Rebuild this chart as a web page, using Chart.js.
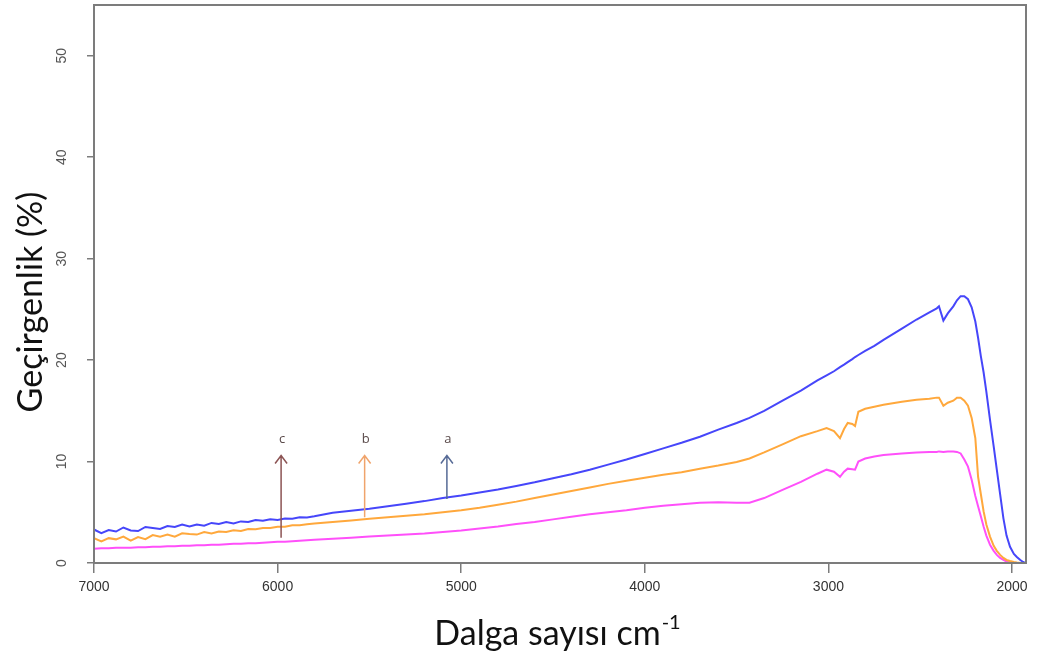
<!DOCTYPE html>
<html>
<head>
<meta charset="utf-8">
<title>Geçirgenlik spektrumu</title>
<script src="https://cdn.jsdelivr.net/npm/chart.js@4"></script>
<style>
    html, body { margin: 0; padding: 0; background: #fff; }
    #wrap { width: 1038px; height: 659px; position: relative; }
</style>
</head>
<body>
<div id="wrap"><canvas id="grafico"></canvas></div>
<script>
// dalga sayisi (cm-1), ortak eksen
const dalgaSayisi = [
    7000, 6960, 6920, 6880, 6840, 6800, 6760, 6720, 6680, 6640, 6600, 6560, 6520, 6480, 6440, 6400,
    6360, 6320, 6280, 6240, 6200, 6160, 6120, 6080, 6040, 6000, 5960, 5920, 5880, 5840, 5800,
    5700, 5600, 5500, 5400, 5300, 5200, 5100, 5000, 4900, 4800, 4700, 4600, 4500, 4400, 4300, 4200,
    4100, 4000, 3900, 3800, 3700, 3600, 3500,
    3430, 3350, 3250, 3150, 3060, 3010, 2970, 2937, 2915, 2895, 2870, 2855, 2837, 2800, 2750, 2700,
    2600, 2520, 2450, 2410, 2398, 2374, 2350, 2320, 2300, 2280, 2260, 2240, 2220, 2200, 2185, 2170,
    2155, 2140, 2120, 2100, 2083, 2065, 2047, 2030, 2011, 1990, 1974, 1955, 1940, 1928
];

// a - mavi
const geciA = [
    3.3, 2.95, 3.25, 3.1, 3.5, 3.2, 3.15, 3.55, 3.45, 3.35, 3.65, 3.55, 3.8, 3.6, 3.8, 3.68,
    3.95, 3.85, 4.03, 3.9, 4.1, 4.04, 4.23, 4.16, 4.3, 4.25, 4.39, 4.37, 4.5, 4.48, 4.6,
    4.95, 5.15, 5.35, 5.6, 5.85, 6.1, 6.4, 6.65, 6.95, 7.25, 7.6, 7.95, 8.35, 8.75, 9.2, 9.7,
    10.2, 10.75, 11.3, 11.85, 12.45, 13.15, 13.8,
    14.3, 15.0, 16.0, 17.0, 18.0, 18.5, 18.9, 19.3, 19.55, 19.8, 20.1, 20.3, 20.5, 20.9, 21.4, 22.0,
    23.1, 24.0, 24.7, 25.1, 25.3, 23.9, 24.6, 25.3, 25.9, 26.3, 26.3, 26.0, 25.2, 23.8, 22.2, 20.4,
    18.8, 16.9, 14.1, 11.5, 9.2, 6.8, 4.4, 2.7, 1.6, 0.9, 0.6, 0.3, 0.1, 0.0
];

// b - turuncu
const geciB = [
    2.45, 2.12, 2.45, 2.33, 2.6, 2.2, 2.55, 2.35, 2.75, 2.6, 2.8, 2.6, 2.92, 2.85, 2.8, 3.05,
    2.92, 3.11, 3.05, 3.23, 3.16, 3.35, 3.32, 3.44, 3.45, 3.58, 3.58, 3.73, 3.73, 3.82, 3.9,
    4.05, 4.2, 4.35, 4.5, 4.65, 4.8, 5.0, 5.2, 5.45, 5.75, 6.05, 6.4, 6.75, 7.1, 7.45, 7.8,
    8.1, 8.4, 8.7, 8.95, 9.3, 9.6, 9.95,
    10.3, 10.9, 11.7, 12.5, 13.0, 13.3, 13.0, 12.3, 13.2, 13.8, 13.7, 13.5, 14.9, 15.2, 15.4, 15.6,
    15.9, 16.1, 16.2, 16.3, 16.3, 15.5, 15.8, 16.0, 16.3, 16.3, 16.0, 15.5, 14.3, 12.3, 8.5, 6.8,
    5.1, 3.8, 2.6, 1.7, 1.2, 0.8, 0.5, 0.3, 0.2, 0.1, 0.05, 0.0, 0.0, 0.0
];

// c - pembe
const geciC = [
    1.4, 1.45, 1.45, 1.5, 1.5, 1.5, 1.55, 1.55, 1.6, 1.6, 1.65, 1.65, 1.7, 1.7, 1.75, 1.75,
    1.8, 1.8, 1.85, 1.9, 1.9, 1.95, 1.95, 2.0, 2.05, 2.1, 2.1, 2.15, 2.2, 2.25, 2.3,
    2.4, 2.5, 2.6, 2.7, 2.8, 2.9, 3.05, 3.2, 3.4, 3.6, 3.85, 4.05, 4.3, 4.55, 4.8, 5.0,
    5.2, 5.45, 5.65, 5.8, 5.95, 6.0, 5.95,
    5.95, 6.4, 7.2, 8.0, 8.8, 9.2, 9.0, 8.5, 9.0, 9.3, 9.25, 9.2, 10.0, 10.3, 10.5, 10.65,
    10.8, 10.9, 10.95, 10.95, 11.0, 10.95, 11.0, 11.0, 10.95, 10.8, 10.2, 9.5, 8.2, 6.6, 5.6, 4.6,
    3.6, 2.7, 1.8, 1.2, 0.8, 0.5, 0.3, 0.15, 0.05, 0.0, 0.0, 0.0, 0.0, 0.0
];

const xTicks = [7000, 6000, 5000, 4000, 3000, 2000];
const yTicks = [0, 10, 20, 30, 40, 50];

// oklar: etiket, dalga sayisi, baslangic ve uc degeri
const okEtiket = ['c', 'b', 'a'];
const okX = [5981, 5526, 5078];
const okAlt = [2.5, 4.5, 6.3];
const okUst = [10.6, 10.6, 10.6];
const okRenk = ['#8c5454', '#f0a46c', '#566a96'];
const etiketY = 12.2;

function seri(yDegerleri) {
    return dalgaSayisi.map((x, i) => ({ x: x, y: yDegerleri[i] }));
}

const cerceveVeYazilar = {
    id: 'cerceveVeYazilar',
    afterDatasetsDraw(chart) {
        const ctx = chart.ctx;
        const xs = chart.scales.x;
        const ys = chart.scales.y;
        ctx.save();
        ctx.lineWidth = 1.5;
        okX.forEach((v, i) => {
            const px = xs.getPixelForValue(v);
            const y0 = ys.getPixelForValue(okAlt[i]);
            const y1 = ys.getPixelForValue(okUst[i]);
            ctx.strokeStyle = okRenk[i];
            ctx.beginPath();
            ctx.moveTo(px, y0);
            ctx.lineTo(px, y1);
            ctx.moveTo(px - 6, y1 + 8);
            ctx.lineTo(px, y1);
            ctx.lineTo(px + 6, y1 + 8);
            ctx.stroke();
            ctx.fillStyle = '#5a4a4a';
            ctx.font = '13px "Open Sans", sans-serif';
            ctx.textAlign = 'center';
            ctx.textBaseline = 'middle';
            ctx.fillText(okEtiket[i], px + 1, ys.getPixelForValue(etiketY));
        });
        ctx.restore();
    },
    afterDraw(chart) {
        const ctx = chart.ctx;
        const a = chart.chartArea;
        const ys = chart.scales.y;
        ctx.save();
        // kutu
        ctx.strokeStyle = '#7c7c7c';
        ctx.lineWidth = 2;
        ctx.strokeRect(a.left, a.top, a.right - a.left, a.bottom - a.top);

        // y etiketleri dik
        ctx.fillStyle = '#555';
        ctx.font = '14px "Liberation Sans", Arial, sans-serif';
        ctx.textAlign = 'center';
        ctx.textBaseline = 'middle';
        yTicks.forEach(v => {
            ctx.save();
            ctx.translate(62, ys.getPixelForValue(v));
            ctx.rotate(-Math.PI / 2);
            ctx.fillText(String(v), 0, 0);
            ctx.restore();
        });

        // eksen basliklari
        ctx.fillStyle = '#111';
        ctx.font = '34px Lato, sans-serif';
        ctx.save();
        ctx.translate(31, 302);
        ctx.rotate(-Math.PI / 2);
        ctx.textBaseline = 'middle';
        ctx.fillText('Geçirgenlik (%)', 0, 0);
        ctx.restore();

        const ana = 'Dalga sayısı cm';
        const ust = '-1';
        ctx.font = '34px Lato, sans-serif';
        const w1 = ctx.measureText(ana).width;
        ctx.font = '20px Lato, sans-serif';
        const w2 = ctx.measureText(ust).width;
        const bas = 557 - (w1 + w2) / 2;
        ctx.textAlign = 'left';
        ctx.textBaseline = 'alphabetic';
        ctx.font = '34px Lato, sans-serif';
        ctx.fillText(ana, bas, 645);
        ctx.font = '20px Lato, sans-serif';
        ctx.fillText(ust, bas + w1 + 1, 629);
        ctx.restore();
    }
};

const ctx = document.getElementById('grafico').getContext('2d');

new Chart(ctx, {
    type: 'line',
    data: {
        datasets: [
            { label: 'a', data: seri(geciA), borderColor: 'rgb(70, 70, 250)', borderWidth: 2, pointRadius: 0, tension: 0 },
            { label: 'b', data: seri(geciB), borderColor: 'rgb(255, 168, 60)', borderWidth: 2, pointRadius: 0, tension: 0 },
            { label: 'c', data: seri(geciC), borderColor: 'rgb(255, 80, 250)', borderWidth: 2, pointRadius: 0, tension: 0 }
        ]
    },
    options: {
        responsive: true,
        maintainAspectRatio: false,
        animation: false,
        layout: { padding: { left: 0, right: 12, top: 5, bottom: 0 } },
        plugins: {
            legend: { display: false },
            tooltip: { enabled: false }
        },
        scales: {
            x: {
                type: 'linear',
                reverse: true,
                min: 1924,
                max: 7000,
                afterBuildTicks: scale => { scale.ticks = xTicks.map(v => ({ value: v })); },
                afterFit: scale => { scale.height = 96; },
                grid: { drawOnChartArea: false, drawTicks: true, tickLength: 10, color: '#7c7c7c', lineWidth: 1.5 },
                border: { display: false },
                ticks: {
                    color: '#333',
                    font: { family: '"Liberation Sans", Arial, sans-serif', size: 14 },
                    padding: 6,
                    maxRotation: 0,
                    autoSkip: false,
                    callback: v => String(v)
                }
            },
            y: {
                min: 0,
                max: 55,
                afterBuildTicks: scale => { scale.ticks = yTicks.map(v => ({ value: v })); },
                afterFit: scale => { scale.width = 94; },
                grid: { drawOnChartArea: false, drawTicks: true, tickLength: 7, color: '#7c7c7c', lineWidth: 1.5 },
                border: { display: false },
                ticks: { display: false }
            }
        }
    },
    plugins: [cerceveVeYazilar]
});
</script>
</body>
</html>
